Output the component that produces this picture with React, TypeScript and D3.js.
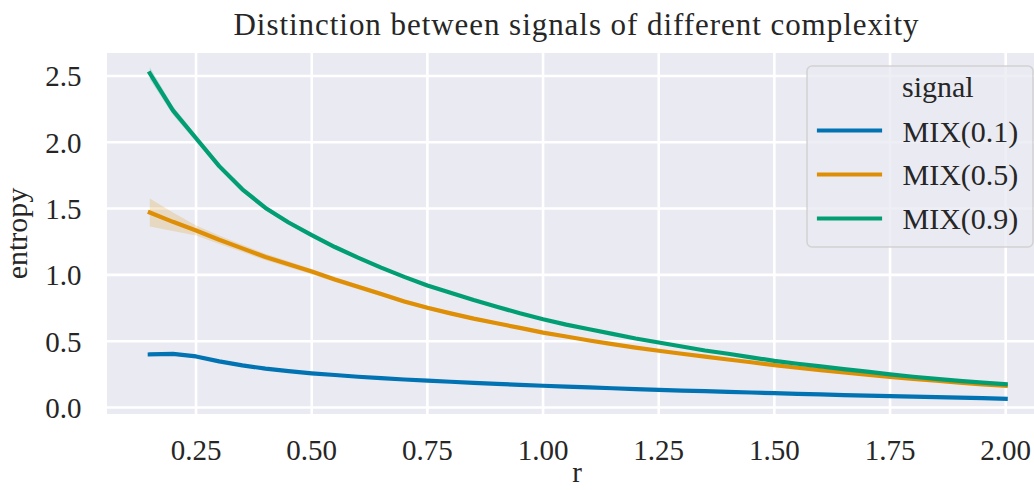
import React from "react";
import * as d3 from "d3";

const rValues = [0.15, 0.2, 0.25, 0.3, 0.35, 0.4, 0.45, 0.5, 0.55, 0.6, 0.65, 0.7, 0.75, 0.8, 0.85, 0.9, 0.95, 1.0, 1.05, 1.1, 1.15, 1.2, 1.25, 1.3, 1.35, 1.4, 1.45, 1.5, 1.55, 1.6, 1.65, 1.7, 1.75, 1.8, 1.85, 1.9, 1.95, 2.0];

const mix01 = [0.40, 0.405, 0.385, 0.348, 0.318, 0.293, 0.274, 0.258, 0.245, 0.232, 0.221, 0.211, 0.202, 0.194, 0.186, 0.178, 0.171, 0.164, 0.158, 0.152, 0.145, 0.139, 0.133, 0.128, 0.123, 0.118, 0.113, 0.108, 0.103, 0.099, 0.094, 0.09, 0.086, 0.082, 0.078, 0.074, 0.07, 0.066];
const mix05 = [1.47, 1.40, 1.335, 1.265, 1.20, 1.135, 1.08, 1.025, 0.965, 0.91, 0.855, 0.80, 0.752, 0.71, 0.67, 0.635, 0.60, 0.565, 0.535, 0.505, 0.478, 0.452, 0.428, 0.405, 0.383, 0.362, 0.341, 0.32, 0.30, 0.282, 0.264, 0.247, 0.231, 0.216, 0.202, 0.188, 0.175, 0.163];
const mix09 = [2.52, 2.24, 2.03, 1.82, 1.645, 1.505, 1.395, 1.30, 1.21, 1.13, 1.055, 0.985, 0.92, 0.865, 0.81, 0.76, 0.71, 0.665, 0.625, 0.59, 0.555, 0.52, 0.49, 0.46, 0.43, 0.405, 0.378, 0.352, 0.33, 0.31, 0.29, 0.27, 0.25, 0.232, 0.216, 0.201, 0.188, 0.175];

const ci01 = [0.012, 0.012, 0.011, 0.01, 0.01, 0.009, 0.009, 0.008, 0.008, 0.008, 0.007, 0.007, 0.007, 0.007, 0.006, 0.006, 0.006, 0.006, 0.006, 0.005, 0.005, 0.005, 0.005, 0.005, 0.005, 0.005, 0.004, 0.004, 0.004, 0.004, 0.004, 0.004, 0.004, 0.004, 0.004, 0.004, 0.004, 0.004];
const ci05 = [0.105, 0.07, 0.038, 0.032, 0.028, 0.025, 0.022, 0.02, 0.019, 0.018, 0.017, 0.016, 0.015, 0.014, 0.013, 0.012, 0.012, 0.011, 0.011, 0.01, 0.01, 0.009, 0.009, 0.009, 0.008, 0.008, 0.008, 0.007, 0.007, 0.007, 0.007, 0.006, 0.006, 0.006, 0.006, 0.006, 0.005, 0.005];
const ci09 = [0.045, 0.032, 0.026, 0.022, 0.02, 0.018, 0.016, 0.015, 0.014, 0.013, 0.012, 0.012, 0.011, 0.011, 0.01, 0.01, 0.009, 0.009, 0.009, 0.008, 0.008, 0.008, 0.007, 0.007, 0.007, 0.007, 0.006, 0.006, 0.006, 0.006, 0.006, 0.005, 0.005, 0.005, 0.005, 0.005, 0.005, 0.005];

const seriesNames = ["MIX(0.1)", "MIX(0.5)", "MIX(0.9)"];
const seriesColors = ["#0173b2", "#de8f05", "#029e73"];
const xTicks = [0.25, 0.5, 0.75, 1.0, 1.25, 1.5, 1.75, 2.0];
const yTicks = [0.0, 0.5, 1.0, 1.5, 2.0, 2.5];

const titleText = "Distinction between signals of different complexity";
const xLabel = "r";
const yLabel = "entropy";
const legendTitle = "signal";

const W = 1034;
const H = 490;
const plot = { left: 107, right: 1048.5, top: 53, bottom: 414 };
const FONT = "'Liberation Serif', 'Times New Roman', serif";
const TEXT = "#262626";

export default function App() {
  const x = d3.scaleLinear().domain([0.0575, 2.0925]).range([plot.left, plot.right]);
  const y = d3.scaleLinear().domain([-0.049, 2.673]).range([plot.bottom, plot.top]);

  const values = [mix01, mix05, mix09];
  const cis = [ci01, ci05, ci09];

  const line = d3
    .line<number>()
    .x((_, i) => x(rValues[i]))
    .y((d) => y(d));

  const area = (vals: number[], ci: number[]) =>
    d3
      .area<number>()
      .x((_, i) => x(rValues[i]))
      .y0((d, i) => y(d - ci[i]))
      .y1((d, i) => y(d + ci[i]))(vals) || "";

  const legend = { x: 807, y: 66, w: 226, h: 181 };

  return (
    <svg
      width={W}
      height={H}
      style={{ position: "absolute", left: 0, top: 0, background: "#ffffff" }}
      fontFamily={FONT}
    >
      <defs>
        <clipPath id="plotclip">
          <rect x={plot.left} y={plot.top} width={plot.right - plot.left} height={plot.bottom - plot.top} />
        </clipPath>
      </defs>
      <rect x={plot.left} y={plot.top} width={plot.right - plot.left} height={plot.bottom - plot.top} fill="#eaeaf2" />
      <g stroke="#ffffff" strokeWidth={2.6}>
        {xTicks.map((t) => (
          <line key={"gx" + t} x1={x(t)} x2={x(t)} y1={plot.top} y2={plot.bottom} />
        ))}
        {yTicks.map((t) => (
          <line key={"gy" + t} x1={plot.left} x2={plot.right} y1={y(t)} y2={y(t)} />
        ))}
      </g>
      <g clipPath="url(#plotclip)">
        {values.map((vals, k) => (
          <path key={"a" + k} d={area(vals, cis[k])} fill={seriesColors[k]} fillOpacity={0.2} stroke="none" />
        ))}
        {values.map((vals, k) => (
          <path
            key={"l" + k}
            d={line(vals) || ""}
            fill="none"
            stroke={seriesColors[k]}
            strokeWidth={4.2}
            strokeLinejoin="round"
            strokeLinecap="square"
          />
        ))}
      </g>
      <g fill={TEXT} fontSize={29}>
        {xTicks.map((t) => (
          <text key={"tx" + t} x={x(t)} y={460} textAnchor="middle">
            {t.toFixed(2)}
          </text>
        ))}
        {yTicks.map((t) => (
          <text key={"ty" + t} x={81.5} y={y(t) + 10.5} textAnchor="end">
            {t.toFixed(1)}
          </text>
        ))}
      </g>
      <text x={577} y={482} textAnchor="middle" fill={TEXT} fontSize={29}>
        {xLabel}
      </text>
      <text
        transform={`translate(27,${(plot.top + plot.bottom) / 2}) rotate(-90)`}
        textAnchor="middle"
        fill={TEXT}
        fontSize={30}
      >
        {yLabel}
      </text>
      <text
        x={576}
        y={35}
        textAnchor="middle"
        fill={TEXT}
        fontSize={31}
        textLength={685}
        lengthAdjust="spacing"
      >
        {titleText}
      </text>
      <g>
        <rect
          x={legend.x}
          y={legend.y}
          width={legend.w}
          height={legend.h}
          rx={5}
          ry={5}
          fill="#eaeaf2"
          fillOpacity={0.8}
          stroke="#cccccc"
          strokeOpacity={0.8}
          strokeWidth={1.5}
        />
        <text x={902} y={97.3} fill={TEXT} fontSize={30}>
          {legendTitle}
        </text>
        {seriesNames.map((name, k) => (
          <g key={"lg" + k}>
            <line
              x1={819}
              x2={880}
              y1={130.5 + k * 44}
              y2={130.5 + k * 44}
              stroke={seriesColors[k]}
              strokeWidth={4.2}
              strokeLinecap="square"
            />
            <text x={902.5} y={141.7 + k * 43.6} fill={TEXT} fontSize={30}>
              {name}
            </text>
          </g>
        ))}
      </g>
    </svg>
  );
}
